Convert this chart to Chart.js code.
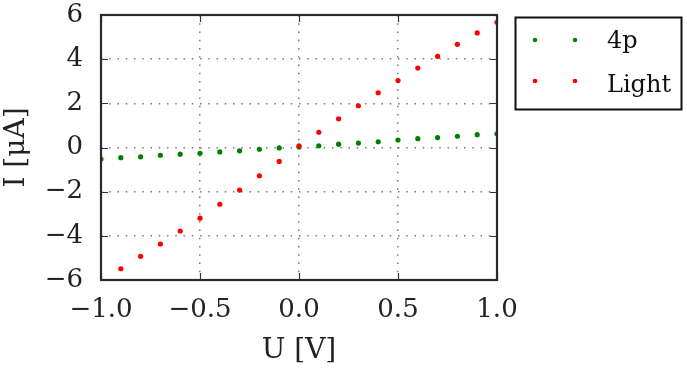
<!DOCTYPE html>
<html>
<head>
<meta charset="utf-8">
<script src="https://cdn.jsdelivr.net/npm/chart.js@4/dist/chart.umd.min.js"></script>
<style>
  html, body { margin: 0; padding: 0; background: #fff; }
  #wrap { width: 687px; height: 376px; }
</style>
</head>
<body>
<div id="wrap"><canvas id="c" width="687" height="376"></canvas></div>
<script>
// ---- data ----
const U = [-1.0, -0.9, -0.8, -0.7, -0.6, -0.5, -0.4, -0.3, -0.2, -0.1, 0.0, 0.1, 0.2, 0.3, 0.4, 0.5, 0.6, 0.7, 0.8, 0.9, 1.0];
const I_4p = [-0.52, -0.46, -0.42, -0.35, -0.30, -0.26, -0.20, -0.15, -0.08, -0.02, 0.02, 0.08, 0.15, 0.20, 0.26, 0.34, 0.40, 0.45, 0.51, 0.58, 0.62];
const I_light = [null, -5.49, -4.93, -4.37, -3.78, -3.20, -2.57, -1.93, -1.28, -0.63, 0.08, 0.69, 1.30, 1.89, 2.48, 3.03, 3.60, 4.13, 4.67, 5.19, 5.67];
const seriesNames = ['4p', 'Light'];
const xTickValues = [-1.0, -0.5, 0.0, 0.5, 1.0];
const xTickLabels = ['\u22121.0', '\u22120.5', '0.0', '0.5', '1.0'];
const yTickValues = [-6, -4, -2, 0, 2, 4, 6];
const yTickLabels = ['\u22126', '\u22124', '\u22122', '0', '2', '4', '6'];
const xTitle = 'U [V]';
const yTitle = 'I [\u03BCA]';

const toPts = (xs, ys) => xs.map((x, i) => ({x: x, y: ys[i]})).filter(p => p.y !== null);

const SERIF = '"DejaVu Serif", serif';

const framePlugin = {
  id: 'frame',
  afterDatasetsDraw(chart) {
    const ctx = chart.ctx;
    const a = chart.chartArea;
    const xs = chart.scales.x, ys = chart.scales.y;
    ctx.save();
    ctx.strokeStyle = '#333';
    ctx.lineWidth = 1.2;
    const tl = 7;
    ctx.beginPath();
    xTickValues.forEach(v => {
      const px = Math.round(xs.getPixelForValue(v)) + 0.5;
      ctx.moveTo(px, a.bottom); ctx.lineTo(px, a.bottom - tl);
      ctx.moveTo(px, a.top); ctx.lineTo(px, a.top + tl);
    });
    yTickValues.forEach(v => {
      const py = Math.round(ys.getPixelForValue(v)) + 0.5;
      ctx.moveTo(a.left, py); ctx.lineTo(a.left + tl, py);
      ctx.moveTo(a.right, py); ctx.lineTo(a.right - tl, py);
    });
    ctx.stroke();
    ctx.lineWidth = 2.2;
    ctx.strokeStyle = '#2a2a2a';
    ctx.strokeRect(a.left, a.top, a.right - a.left, a.bottom - a.top);
    ctx.restore();
  }
};

const legendPlugin = {
  id: 'boxLegend',
  afterDraw(chart) {
    const ctx = chart.ctx;
    ctx.save();
    ctx.lineWidth = 2;
    ctx.strokeStyle = '#111';
    ctx.strokeRect(515.5, 17.5, 166, 92);
    const rowsY = [40, 81];
    const baseY = [47.5, 92];
    chart.data.datasets.forEach((ds, i) => {
      ctx.fillStyle = ds.backgroundColor;
      [535, 575].forEach(px => {
        ctx.beginPath();
        ctx.arc(px, rowsY[i], 2.3, 0, Math.PI * 2);
        ctx.fill();
      });
      ctx.fillStyle = '#111';
      ctx.font = '24px ' + SERIF;
      ctx.textBaseline = 'alphabetic';
      ctx.textAlign = 'left';
      ctx.fillText(ds.label, 607, baseY[i]);
    });
    ctx.restore();
  }
};

new Chart(document.getElementById('c'), {
  type: 'scatter',
  data: {
    datasets: [
      { label: seriesNames[0], data: toPts(U, I_4p), backgroundColor: '#008000', borderWidth: 0, pointRadius: 2.6, order: 2, clip: 0 },
      { label: seriesNames[1], data: toPts(U, I_light), backgroundColor: '#ff0000', borderWidth: 0, pointRadius: 2.6, order: 1, clip: 0 }
    ]
  },
  options: {
    responsive: false,
    animation: false,
    devicePixelRatio: 1,
    layout: { autoPadding: false, padding: { top: 15, right: 190, left: 0, bottom: 0 } },
    plugins: { legend: { display: false }, tooltip: { enabled: false } },
    scales: {
      x: {
        type: 'linear', min: -1, max: 1,
        afterBuildTicks: s => { s.ticks = xTickValues.map(v => ({value: v})); },
        afterFit: s => { s.height = 96; s.paddingLeft = 0; s.paddingRight = 0; s.paddingTop = 0; s.paddingBottom = 0; },
        ticks: { callback: (v, i) => xTickLabels[i], font: { family: SERIF, size: 26 }, color: '#222', padding: 15, maxRotation: 0, autoSkip: false },
        grid: { color: '#7a7a7a', lineWidth: 1.5, drawTicks: false },
        border: { display: false, dash: [1.5, 6.75] },
        title: { display: true, text: xTitle, font: { family: SERIF, size: 28 }, color: '#222', padding: { top: 0, bottom: 8 } }
      },
      y: {
        type: 'linear', min: -6, max: 6,
        afterBuildTicks: s => { s.ticks = yTickValues.map(v => ({value: v})); },
        afterFit: s => { s.width = 101; s.paddingLeft = 0; s.paddingRight = 0; s.paddingTop = 0; s.paddingBottom = 0; },
        ticks: { callback: (v, i) => yTickLabels[i], font: { family: SERIF, size: 26 }, color: '#222', padding: 18, autoSkip: false },
        grid: { color: '#7a7a7a', lineWidth: 1.5, drawTicks: false },
        border: { display: false, dash: [1.5, 6.75] },
        title: { display: true, text: yTitle, font: { family: SERIF, size: 28 }, color: '#222', padding: { top: 0, bottom: 0 } }
      }
    }
  },
  plugins: [framePlugin, legendPlugin]
});
</script>
</body>
</html>
